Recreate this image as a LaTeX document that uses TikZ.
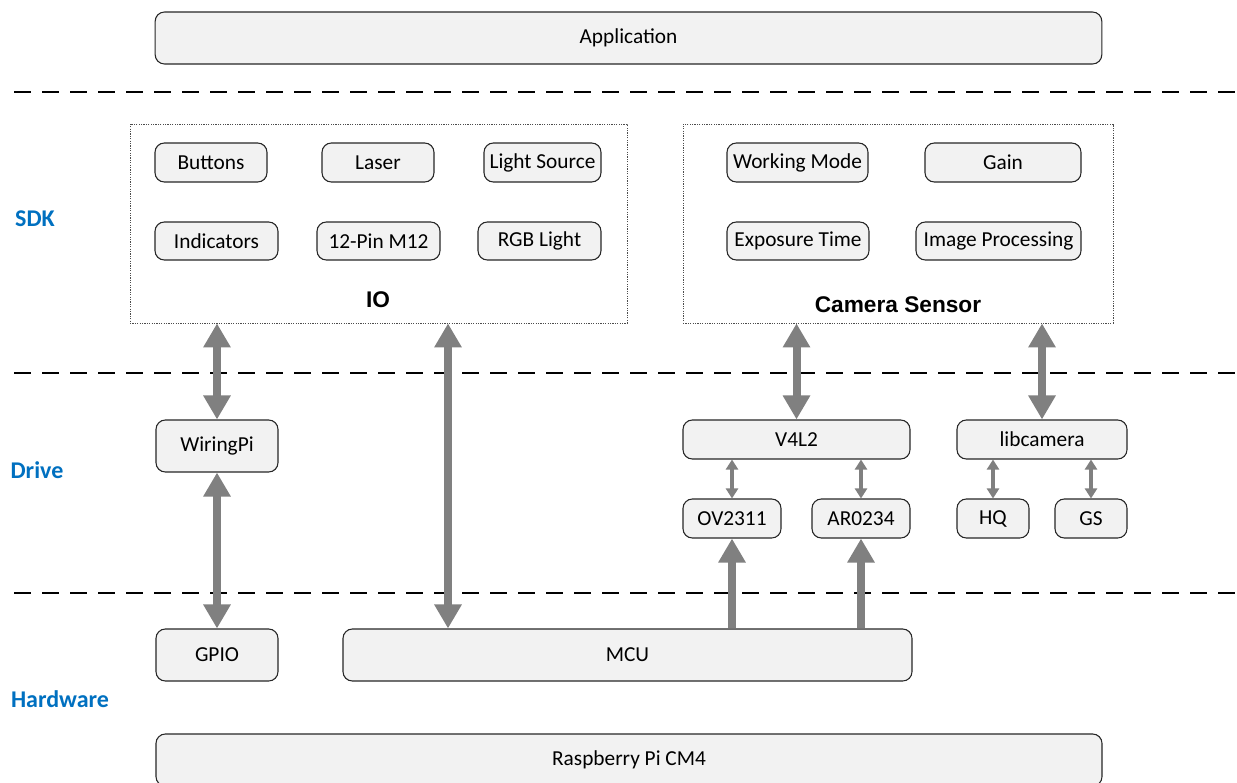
\documentclass[tikz,border=0pt]{standalone}
\usepackage{fontspec}
\setmainfont{Carlito}
\newfontfamily\arialfont{Liberation Sans}
\usepackage{tikz}
\usetikzlibrary{arrows.meta,positioning,calc}
\definecolor{boxfill}{HTML}{F2F2F2}
\definecolor{arrgray}{HTML}{808080}
\definecolor{layerblue}{HTML}{0070C0}

\begin{document}
\begin{tikzpicture}[x = .75pt, y = -.75pt,
  box/.style = {draw = black!85, fill = boxfill, rounded corners = 7pt, line width = .8pt,
    font = \fontsize{16}{18}\selectfont, inner sep = 0pt},
  group/.style = {draw = black!70, line width = .6pt, dash pattern = on .9pt off .9pt, inner sep = 0pt},
  layer/.style = {text = layerblue, font = \fontsize{18}{20}\selectfont\bfseries},
  title/.style = {font = \arialfont\fontsize{17}{19}\selectfont\bfseries},
  sep/.style = {line width = 1.5pt, dash pattern = on 12.75pt off 8.25pt},
  bigarr/.style = {draw = arrgray, line width = 6pt, {Triangle[width=19.5pt, length=18pt]}-{Triangle[width=19.5pt, length=18pt]}},
  uparr/.style = {draw = arrgray, line width = 6pt, -{Triangle[width=19.5pt, length=18pt]}},
  smallarr/.style = {draw = arrgray, line width = 2.6pt, {Triangle[width=9pt, length=7.5pt]}-{Triangle[width=9pt, length=7.5pt]}}]
\clip (0, 0) rectangle (1237, 782);
\useasboundingbox (0, 0) rectangle (1237, 782);

% layers
\draw[sep] (14, 92) -- (1237, 92);
\draw[sep] (14, 373) -- (1237, 373);
\draw[sep] (14, 593) -- (1237, 593);
\node[layer] (SDK) at (35, 219) {SDK};
\node[layer] (Drive) at (37, 470) {Drive};
\node[layer] (HW) at (60, 699) {Hardware};

\node[box, minimum width = 710pt, minimum height = 39pt] (App) at (628.5, 38) {Application};

% IO group
\node[group, minimum width = 372.75pt, minimum height = 149.25pt] (IO) at (378.5, 223.5) {};
\node[title] (IOt) at (378, 300) {IO};
\node[box, minimum width = 84pt, minimum height = 29.25pt] (Btn) at (211, 162.5) {Buttons};
\node[box, minimum width = 84pt, minimum height = 29.25pt] (Las) at (378, 162.5) {Laser};
\node[box, minimum width = 87.75pt, minimum height = 29.25pt] (LS) at (542.5, 162.5) {Light Source};
\node[box, minimum width = 92.25pt, minimum height = 28.5pt] (Ind) at (216.5, 241) {Indicators};
\node[box, minimum width = 92.25pt, minimum height = 28.5pt] (Pin) at (378.5, 241) {12-Pin M12};
\node[box, minimum width = 92.25pt, minimum height = 28.5pt] (RGB) at (539.5, 241) {RGB Light};

% camera group
\node[group, minimum width = 322.5pt, minimum height = 149.25pt] (Cam) at (898, 223.5) {};
\node[title] (Camt) at (898, 305) {Camera Sensor};
\node[box, minimum width = 105.75pt, minimum height = 29.25pt] (WM) at (797.5, 162.5) {Working Mode};
\node[box, minimum width = 117pt, minimum height = 29.25pt] (Gain) at (1003, 162.5) {Gain};
\node[box, minimum width = 106.5pt, minimum height = 28.5pt] (Exp) at (798, 241) {Exposure Time};
\node[box, minimum width = 123.75pt, minimum height = 28.5pt] (IP) at (998.5, 241) {Image Processing};

% drive
\node[box, minimum width = 91.5pt, minimum height = 39pt] (WP) at (217, 446) {WiringPi};
\node[box, minimum width = 170.25pt, minimum height = 29.25pt] (V4L2) at (796.5, 439.5) {V4L2};
\node[box, minimum width = 127.5pt, minimum height = 29.25pt] (LC) at (1042, 439.5) {libcamera};
\node[box, minimum width = 73.5pt, minimum height = 29.25pt] (OV) at (732, 518.5) {OV2311};
\node[box, minimum width = 73.5pt, minimum height = 29.25pt] (AR) at (861, 518.5) {AR0234};
\node[box, minimum width = 54pt, minimum height = 29.25pt] (HQ) at (993, 518.5) {HQ};
\node[box, minimum width = 54pt, minimum height = 29.25pt] (GS) at (1091, 518.5) {GS};

% hardware
\node[box, minimum width = 91.5pt, minimum height = 39pt] (GPIO) at (217, 655) {GPIO};
\node[box, minimum width = 426.75pt, minimum height = 39pt] (MCU) at (627.5, 655) {MCU};
\node[box, minimum width = 709.5pt, minimum height = 39pt] (RPi) at (629, 760) {Raspberry Pi CM4};
\coordinate (m) at (448, 655);

\draw[bigarr] (WP.north) -- (WP.north |- IO.south);
\draw[bigarr] (GPIO.north) -- (WP.south);
\draw[bigarr] (m |- MCU.north) -- (m |- IO.south);
\draw[bigarr] (V4L2.north) -- (V4L2.north |- Cam.south);
\draw[bigarr] (LC.north) -- (LC.north |- Cam.south);
\draw[smallarr] (OV.north) -- (OV.north |- V4L2.south);
\draw[smallarr] (AR.north) -- (AR.north |- V4L2.south);
\draw[smallarr] (HQ.north) -- (HQ.north |- LC.south);
\draw[smallarr] (GS.north) -- (GS.north |- LC.south);
\draw[uparr] (OV.south |- MCU.north) -- (OV.south);
\draw[uparr] (AR.south |- MCU.north) -- (AR.south);

\end{tikzpicture}
\end{document}
